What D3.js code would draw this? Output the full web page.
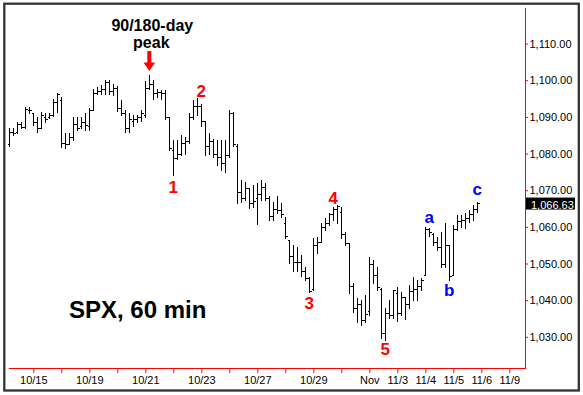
<!DOCTYPE html>
<html>
<head>
<meta charset="utf-8">
<script src="https://d3js.org/d3.v7.min.js"></script>
<style>
  body { margin: 0; background: #fff; }
  svg { display: block; font-family: "Liberation Sans", Arial, sans-serif; }
</style>
</head>
<body>
<script>
// trading days, one tick per day (7 hourly bars each)
const days = ['10/14','10/15','10/16','10/19','10/20','10/21','10/22','10/23','10/26','10/27',
              '10/28','10/29','10/30','11/2','11/3','11/4','11/5','11/6','11/9']
const dayLabels = ['','10/15','','10/19','','10/21','','10/23','','10/27',
                   '','10/29','','Nov','11/3','11/4','11/5','11/6','11/9']
const yTicks = [1030, 1040, 1050, 1060, 1070, 1080, 1090, 1100, 1110]

// hourly OHLC, first bar is the 2nd hour of 10/14
const open = [
  1082.5, 1086, 1085.8, 1088, 1087.3, 1092,
  1091, 1088.5, 1087, 1090, 1090, 1090.5, 1094,
  1094.5, 1083, 1082.5, 1084.5, 1088, 1087.5, 1088.5,
  1087.5, 1092, 1096.5, 1097, 1097.5, 1099.5, 1097,
  1098, 1092.5, 1091, 1087, 1089, 1089.5, 1090,
  1090.5, 1098, 1099, 1096.5, 1096.8, 1096.5, 1090,
  1081, 1078.7, 1080, 1083, 1083.5, 1090, 1093,
  1092.9, 1089, 1082, 1083.5, 1080, 1079, 1077.5,
  1079.6, 1091, 1082, 1069.5, 1068, 1070.5, 1066.5,
  1068, 1069, 1071, 1068, 1063, 1065, 1064.5,
  1061, 1056.5, 1052, 1050.5, 1050.5, 1048, 1046,
  1043, 1055, 1056, 1060, 1061, 1063.5, 1065,
  1064, 1058, 1055.5, 1044, 1038, 1039, 1034.5,
  1037, 1050, 1047, 1043, 1031, 1036.5, 1036,
  1042, 1036.5, 1041, 1039, 1042.5, 1043, 1044,
  1047, 1059.5, 1058, 1056, 1054.5, 1050, 1055,
  1047, 1059.5, 1061.5, 1062, 1062.5, 1063.5, 1065
]
const high = [
  1086.9, 1087, 1088.7, 1088.7, 1092.8, 1092.6,
  1091, 1090, 1091.4, 1091, 1091.2, 1094.8, 1096.6,
  1095.5, 1085.6, 1085.6, 1090, 1090, 1090, 1091,
  1092.4, 1097.6, 1098.2, 1098.7, 1100, 1100.1, 1099,
  1098.5, 1094.5, 1092, 1091, 1090.5, 1090.5, 1092,
  1099.8, 1101.4, 1100, 1097.5, 1097.3, 1097.3, 1090,
  1083.7, 1083.7, 1085, 1084.5, 1091, 1094.6, 1095.2,
  1093.5, 1089, 1085.5, 1084, 1083.7, 1083.7, 1083.7,
  1092, 1091.4, 1082.5, 1072.8, 1072.3, 1070.6, 1071.4,
  1071.9, 1072.8, 1071.9, 1068.3, 1066.9, 1068.3, 1066.5,
  1062.8, 1056.5, 1055.1, 1054.6, 1052.4, 1049.1, 1046.4,
  1057, 1057.3, 1061.1, 1062.5, 1063.8, 1065.5, 1066.1,
  1065.5, 1058.7, 1055.7, 1044.7, 1040.6, 1040.1, 1041.5,
  1051.8, 1051, 1049.1, 1043.4, 1038, 1040.1, 1042.9,
  1043.6, 1042.3, 1041, 1044.2, 1046.4, 1045.6, 1046.1,
  1060, 1059.7, 1058.4, 1057.3, 1058.6, 1061, 1055,
  1060.5, 1063.3, 1063.3, 1063.8, 1064.6, 1066, 1066.7
]
const low = [
  1082.1, 1085, 1085.5, 1086.9, 1086.9, 1091,
  1087.8, 1086, 1087, 1088.7, 1089.6, 1090.2, 1091.4,
  1081.9, 1081.5, 1082.5, 1083.7, 1086.4, 1087, 1086.4,
  1086.4, 1092, 1096.3, 1096.3, 1096.3, 1096.3, 1096,
  1091.5, 1090.5, 1086, 1086, 1087.5, 1088.5, 1088.8,
  1090, 1097.5, 1095, 1095.5, 1095, 1089.5, 1081,
  1074.2, 1078.5, 1079.5, 1080, 1083, 1089.5, 1090.5,
  1087.5, 1079.6, 1080, 1079, 1076.8, 1075.5, 1075,
  1079, 1082, 1066.5, 1066.9, 1067.2, 1065.2, 1065.5,
  1060.8, 1067.4, 1067.4, 1061.9, 1062, 1063.7, 1062.8,
  1057, 1050.2, 1048, 1048, 1046.5, 1045.6, 1042.3,
  1042.8, 1052.9, 1056, 1059.2, 1060.5, 1061.9, 1061,
  1057, 1055.1, 1042, 1036.8, 1034.1, 1033.3, 1034,
  1036, 1044.7, 1042.8, 1029.8, 1029.2, 1035.2, 1035.2,
  1034.2, 1036, 1035, 1038, 1040.1, 1040.1, 1042.8,
  1047, 1057.5, 1055.1, 1053.7, 1049.1, 1049.1, 1045.6,
  1047, 1059.2, 1060, 1059.7, 1061.4, 1061.9, 1064.1
]
const close = [
  1086, 1085.5, 1088, 1087.3, 1092.2, 1091.8,
  1088.5, 1087, 1090.5, 1089.5, 1090.5, 1094, 1096.3,
  1083, 1082.5, 1084.5, 1088, 1087, 1088.5, 1087.7,
  1092, 1096.5, 1097, 1097.5, 1099.5, 1097, 1097.9,
  1092.5, 1091, 1087, 1089.5, 1089.5, 1090, 1091,
  1098, 1099, 1096.5, 1096.8, 1096.5, 1090, 1081.4,
  1078.7, 1080, 1083, 1083.5, 1090, 1093, 1092.9,
  1089, 1082, 1083.5, 1080, 1079, 1077.5, 1079.6,
  1091, 1082.5, 1069.5, 1068, 1070.5, 1066.5, 1067,
  1069, 1071, 1068, 1063, 1065, 1064.5, 1063.4,
  1057.5, 1052, 1050.5, 1050.5, 1048, 1046, 1042.6,
  1055, 1056, 1060, 1061, 1063.5, 1065, 1065.8,
  1058, 1055.5, 1044, 1038, 1039, 1034.5, 1036.2,
  1050, 1047, 1043.5, 1031, 1036.5, 1036, 1042.8,
  1036.5, 1041, 1039, 1042.5, 1043, 1044, 1045.4,
  1059.5, 1058.5, 1056, 1054.5, 1050, 1055, 1046.5,
  1059.5, 1061.5, 1062, 1062.5, 1063.5, 1065, 1066.63
]
const firstSlot = 1

// wave counts: bar slot and price of the label baseline
const waves = [
  { t: '1', slot: 42, v: 1069.3, c: '#f00' },
  { t: '2', slot: 49, v: 1095.5, c: '#f00' },
  { t: '3', slot: 76, v: 1037.6, c: '#f00' },
  { t: '4', slot: 82, v: 1066.2, c: '#f00' },
  { t: '5', slot: 95, v: 1025.1, c: '#f00' },
  { t: 'a', slot: 106, v: 1061.0, c: '#00f' },
  { t: 'b', slot: 111, v: 1041.1, c: '#00f' },
  { t: 'c', slot: 118, v: 1068.7, c: '#00f' }
]
const peakSlot = 36

const width = 583
const height = 395

const bars = open.map((o, i) => ({ slot: firstSlot + i, o: o, h: high[i], l: low[i], c: close[i] }))

const svg = d3.select('body').append('svg').attr('width', width).attr('height', height)
svg.append('rect').attr('width', width).attr('height', height).attr('fill', '#fff')

const x = d3.scaleLinear().domain([0.75, 130.1]).range([8.3, 525.7])
const y = d3.scaleLinear().domain([1021.5, 1119.9]).range([368, 7.3])
const px = v => Math.round(v) + 0.5

// axes
const xAxis = d3.axisBottom(x)
  .tickValues(days.map((d, i) => i * 7).filter(v => v > 0))
  .tickSize(5).tickSizeOuter(0).tickPadding(3)
  .tickFormat(v => dayLabels[v / 7])
const yAxis = d3.axisRight(y)
  .tickValues(yTicks)
  .tickSize(3).tickSizeOuter(0).tickPadding(1.5)
  .tickFormat(d3.format(',.2f'))

const gx = svg.append('g').attr('transform', 'translate(0,368)').call(xAxis)
const gy = svg.append('g').attr('transform', 'translate(525,0)').call(yAxis)
for (const g of [gx, gy]) {
  g.selectAll('path, line').attr('stroke', '#f00')
  g.selectAll('text').attr('fill', '#000').style('font-size', '11px')
}

// OHLC bars
const gb = svg.append('g').attr('stroke', '#000').attr('stroke-width', 1).attr('shape-rendering', 'crispEdges')
gb.selectAll('line.hl').data(bars).join('line')
  .attr('x1', d => px(x(d.slot))).attr('x2', d => px(x(d.slot)))
  .attr('y1', d => Math.round(y(d.h))).attr('y2', d => Math.round(y(d.l)) + 1)
gb.selectAll('line.o').data(bars).join('line')
  .attr('x1', d => px(x(d.slot)) - 2).attr('x2', d => px(x(d.slot)))
  .attr('y1', d => px(y(d.o))).attr('y2', d => px(y(d.o)))
gb.selectAll('line.c').data(bars).join('line')
  .attr('x1', d => px(x(d.slot))).attr('x2', d => px(x(d.slot)) + 2)
  .attr('y1', d => px(y(d.c))).attr('y2', d => px(y(d.c)))

// last price tag
const last = close[close.length - 1]
svg.append('rect').attr('x', 526).attr('y', y(last) - 5).attr('width', 49).attr('height', 12).attr('fill', '#000')
svg.append('text').attr('x', 531).attr('y', y(last) + 6)
  .attr('fill', '#fff').style('font-size', '11px').text(d3.format(',.2f')(last))

// wave labels
svg.selectAll('text.wave').data(waves).join('text')
  .attr('x', d => x(d.slot)).attr('y', d => y(d.v))
  .attr('text-anchor', 'middle').attr('fill', d => d.c)
  .style('font-size', '17px').style('font-weight', 'bold')
  .text(d => d.t)

// peak annotation
const ax = x(peakSlot)
const peakHigh = high[peakSlot - firstSlot]
const tip = y(peakHigh) - 4
svg.append('path')
  .attr('d', `M${ax - 2},${tip - 20}H${ax + 2}V${tip - 8.5}H${ax + 5.8}L${ax},${tip}L${ax - 5.8},${tip - 8.5}H${ax - 2}Z`)
  .attr('fill', '#f00')
svg.append('text').attr('x', ax + 3).attr('y', 31).attr('text-anchor', 'middle')
  .style('font-size', '16px').style('font-weight', 'bold').text('90/180-day')
svg.append('text').attr('x', ax + 2).attr('y', 47.5).attr('text-anchor', 'middle')
  .style('font-size', '16px').style('font-weight', 'bold').text('peak')

svg.append('text').attr('x', 69).attr('y', 317.5)
  .style('font-size', '24px').style('font-weight', 'bold').text('SPX, 60 min')

// frame
svg.append('rect').attr('x', 4.3).attr('y', 3.7).attr('width', 574.5).attr('height', 386.8)
  .attr('fill', 'none').attr('stroke', '#333').attr('stroke-width', 2.3)
</script>
</body>
</html>
